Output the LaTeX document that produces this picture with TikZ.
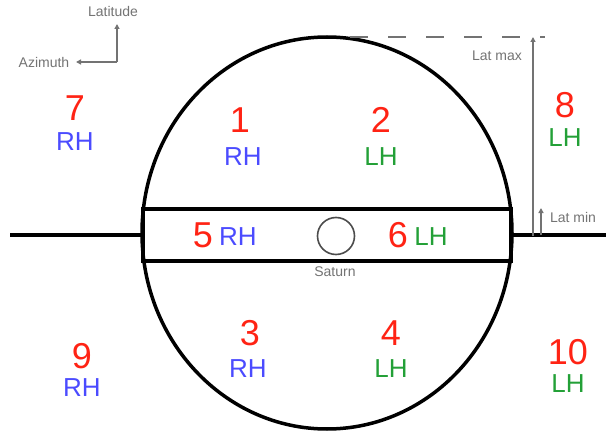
\documentclass[tikz,border=0pt]{standalone}
\usepackage{fontspec}
\setmainfont{Liberation Sans}
\usetikzlibrary{arrows.meta}

\definecolor{numred}{RGB}{255,35,20}
\definecolor{rhblue}{RGB}{75,75,255}
\definecolor{lhgreen}{RGB}{35,160,55}
\definecolor{axisgray}{RGB}{115,115,115}

\begin{document}
\begin{tikzpicture}[x=1pt, y=-1pt,
    wall/.style={line width=3.5pt},
    guide/.style={draw=axisgray, line width=2pt},
    guidearrow/.style={guide, -{Triangle[length=5pt, width=5pt]}},
    num/.style={text=numred, font=\fontsize{36}{36}\selectfont, inner sep=0pt},
    rhlabel/.style={text=rhblue, font=\fontsize{26}{26}\selectfont, inner sep=0pt},
    lhlabel/.style={text=lhgreen, font=\fontsize{26}{26}\selectfont, inner sep=0pt},
    smalllabel/.style={text=axisgray, font=\fontsize{14}{14}\selectfont, inner sep=0pt}]
    \useasboundingbox (0,0) rectangle (606,436);

    % axes legend
    \coordinate (corner) at (117,62);
    \coordinate (latend) at (117,24);
    \coordinate (azend) at (76,62);
    \draw[guidearrow] (corner) -- (latend);
    \draw[guidearrow] (corner) -- (azend);
    \node[smalllabel] (latitude) at (113,11) {Latitude};
    \node[smalllabel] (azimuth) at (44,62) {Azimuth};

    % main outline and equatorial band
    \draw[wall] (327,233) ellipse [x radius=185, y radius=196];
    \draw[wall] (143,209) rectangle (511,261);
    \coordinate (leftend) at (10,235);
    \coordinate (leftwall) at (143,235);
    \coordinate (rightwall) at (511,235);
    \coordinate (rightend) at (606,235);
    \draw[wall] (leftend) -- (leftwall);
    \draw[wall] (rightwall) -- (rightend);

    % planet
    \node[circle, draw=black!70, line width=1.6pt, minimum size=37pt, inner sep=0pt] (saturn) at (336,236) {};
    \node[smalllabel] (saturnlabel) at (335,272) {Saturn};

    % latitude limits
    \draw[guide, dashed, dash pattern=on 18pt off 20pt] (350,37) -- (545,37);
    \coordinate (maxbase) at (533,236);
    \coordinate (maxtop) at (533,37);
    \coordinate (minbase) at (541,235);
    \coordinate (mintop) at (541,208);
    \draw[guidearrow] (maxbase) -- (maxtop);
    \draw[guidearrow] (minbase) -- (mintop);
    \node[smalllabel] (latmax) at (497,56) {Lat max};
    \node[smalllabel] (latmin) at (573,217) {Lat min};

    % regions
    \node[num] (n7) at (75,108) {7};
    \node[rhlabel] (h7) at (75,142) {RH};
    \node[num] (n1) at (240,120) {1};
    \node[rhlabel] (h1) at (243,157) {RH};
    \node[num] (n2) at (381,120) {2};
    \node[lhlabel] (h2) at (381,157) {LH};
    \node[num] (n8) at (565,105) {8};
    \node[lhlabel] (h8) at (565,138) {LH};
    \node[num] (n5) at (203,235) {5};
    \node[rhlabel] (h5) at (238,237) {RH};
    \node[num] (n6) at (398,235) {6};
    \node[lhlabel] (h6) at (431,237) {LH};
    \node[num] (n3) at (250,333) {3};
    \node[rhlabel] (h3) at (248,369) {RH};
    \node[num] (n4) at (391,333) {4};
    \node[lhlabel] (h4) at (391,369) {LH};
    \node[num] (n9) at (82,356) {9};
    \node[rhlabel] (h9) at (82,388) {RH};
    \node[num] (n10) at (568,352) {10};
    \node[lhlabel] (h10) at (568,384) {LH};
\end{tikzpicture}
\end{document}
